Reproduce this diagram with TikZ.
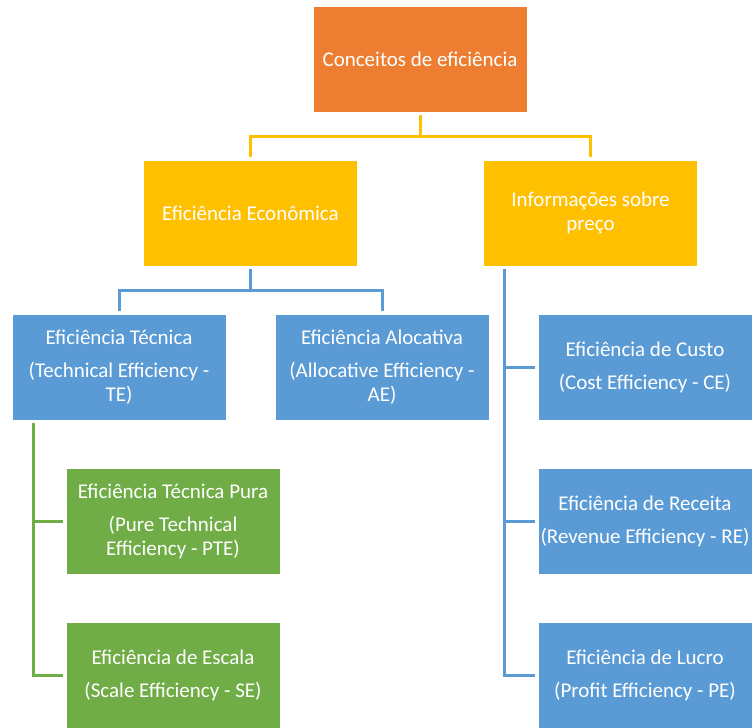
\documentclass[tikz,border=0pt]{standalone}
\usepackage{fontspec}
\setmainfont{Carlito}
\definecolor{cOrange}{HTML}{ED7D31}
\definecolor{cYellow}{HTML}{FFC000}
\definecolor{cBlue}{HTML}{5B9BD5}
\definecolor{cGreen}{HTML}{70AD47}
\begin{document}
\begin{tikzpicture}[x=1pt,y=-1pt,
  box/.style={draw=white, line width=0.6pt, minimum width=214pt, minimum height=106pt,
    inner sep=0pt, outer sep=3pt, text=white, align=center,
    font=\fontsize{21}{24}\selectfont},
  conn/.style={line width=3pt, line join=miter}]
\useasboundingbox (0,0) rectangle (753,728);

% boxes
\node[box, fill=cOrange] (top) at (420,59) {Conceitos de eficiência};
\node[box, fill=cYellow] (econ) at (250.5,213) {Eficiência Econômica};
\node[box, fill=cYellow] (info) at (590.5,213) {Informações sobre\\preço};
\node[box, fill=cBlue] (tec) at (119,367) {Eficiência Técnica\\[9pt](Technical Efficiency -\\TE)};
\node[box, fill=cBlue] (aloc) at (382,367) {Eficiência Alocativa\\[9pt](Allocative Efficiency -\\AE)};
\node[box, fill=cBlue] (cost) at (645,367) {Eficiência de Custo\\[9pt](Cost Efficiency - CE)};
\node[box, fill=cBlue] (rev) at (645,521) {Eficiência de Receita\\[9pt](Revenue Efficiency - RE)};
\node[box, fill=cBlue] (prof) at (645,675.5) {Eficiência de Lucro\\[9pt](Profit Efficiency - PE)};
\node[box, fill=cGreen] (pte) at (173,521) {Eficiência Técnica Pura\\[9pt](Pure Technical\\Efficiency - PTE)};
\node[box, fill=cGreen] (se) at (173,675.5) {Eficiência de Escala\\[9pt](Scale Efficiency - SE)};

% branch levels
\coordinate (ybar) at (0,136);
\coordinate (bbar) at (0,290);
\coordinate (rx) at (504,0);
\coordinate (gx) at (33,0);

% top level
\draw[conn, cYellow] (top.south) -- (top.south |- ybar);
\draw[conn, cYellow] (econ.north) -- (econ.north |- ybar) -| (info.north);

% economic efficiency split
\draw[conn, cBlue] (econ.south) -- (econ.south |- bbar);
\draw[conn, cBlue] (tec.north) -- (tec.north |- bbar) -| (aloc.north);

% price information branch
\draw[conn, cBlue] (info.south -| rx) -- (prof.west -| rx) -- (prof.west);
\draw[conn, cBlue] (cost.west -| rx) -- (cost.west);
\draw[conn, cBlue] (rev.west -| rx) -- (rev.west);

% technical efficiency branch
\draw[conn, cGreen] (tec.south -| gx) -- (se.west -| gx) -- (se.west);
\draw[conn, cGreen] (pte.west -| gx) -- (pte.west);
\end{tikzpicture}
\end{document}
